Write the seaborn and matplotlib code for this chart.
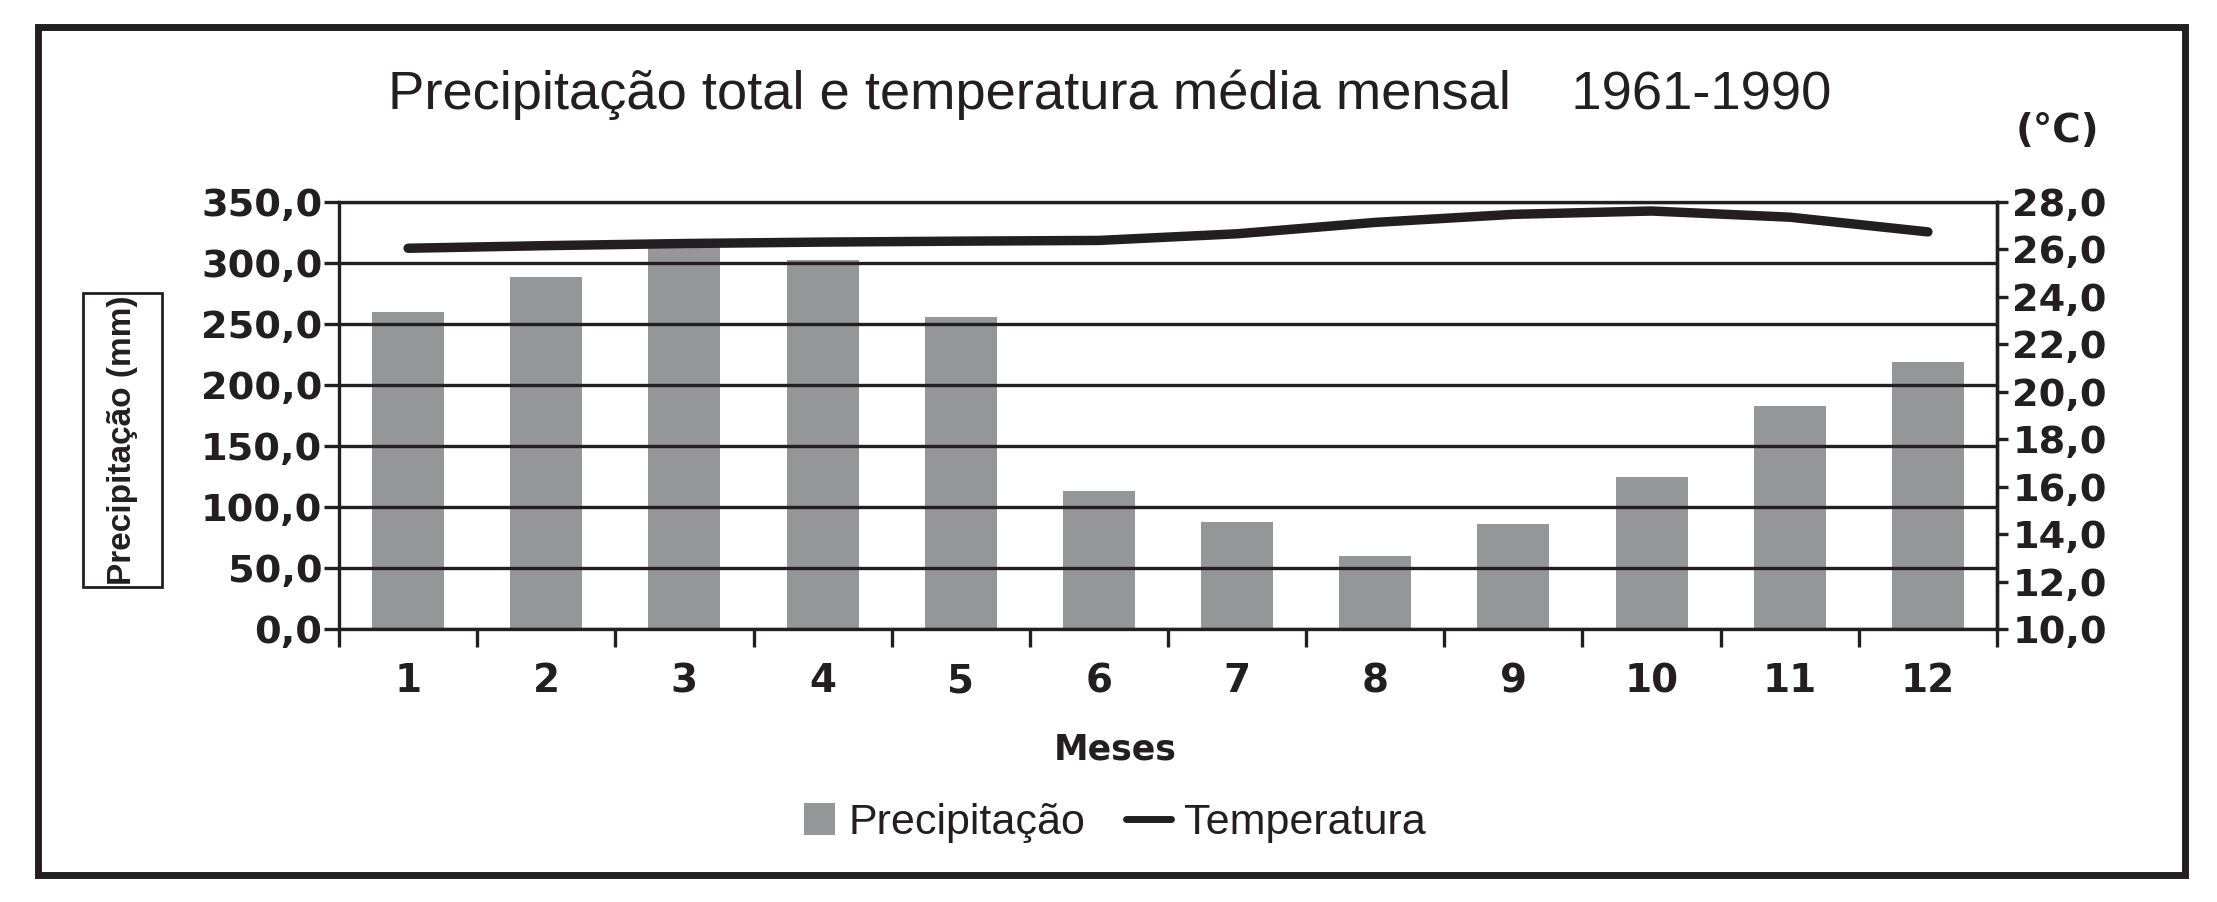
import numpy as np
import matplotlib
matplotlib.use("Agg")
import matplotlib.pyplot as plt
import matplotlib.patches as mpatches
from matplotlib import font_manager
from matplotlib.lines import Line2D
from matplotlib.legend_handler import HandlerPatch
from matplotlib.ticker import FixedLocator, FuncFormatter
import seaborn as sns

# ---------------------------------------------------------------------------
# Data
# ---------------------------------------------------------------------------
months = ["1", "2", "3", "4", "5", "6", "7", "8", "9", "10", "11", "12"]
precip_mm = [259.5, 288.5, 316.0, 302.5, 256.0, 113.5, 88.0, 60.0, 86.0, 124.5, 182.5, 219.0]
temp_c = [26.05, 26.16, 26.25, 26.31, 26.35, 26.38, 26.66, 27.14, 27.48, 27.62, 27.36, 26.74]

prec_ticks = [0, 50, 100, 150, 200, 250, 300, 350]
temp_ticks = [10, 12, 14, 16, 18, 20, 22, 24, 26, 28]

title = "Precipitação total e temperatura média mensal    1961-1990"
ylabel = "Precipitação (mm)"
xlabel = "Meses"
unit_right = "(°C)"
legend_labels = ["Precipitação", "Temperatura"]

BAR_GRAY = "#959698"
INK = "#231f20"
ARIAL = ["Liberation Sans", "DejaVu Sans"]

# the boxed y label is set in a narrow face; use one if it is installed
_installed = {f.name for f in font_manager.fontManager.ttflist}
if "Liberation Sans Narrow" in _installed:
    YLAB_FONT, YLAB_SIZE = ["Liberation Sans Narrow", "DejaVu Sans"], 27
else:
    YLAB_FONT, YLAB_SIZE = ARIAL, 24

W, H = 2217, 902

sns.set_style("white")
plt.rcParams["font.family"] = ["DejaVu Sans"]
plt.rcParams["text.color"] = INK

fig = plt.figure(figsize=(W / 100, H / 100), dpi=100)
ax = fig.add_axes([339 / W, 1 - 629 / H, (1997 - 339) / W, (629 - 202) / H])

# ── bars ────────────────────────────────────────────────────────────────
sns.barplot(x=months, y=precip_mm, ax=ax, color=BAR_GRAY, saturation=1,
            width=0.52, linewidth=0, errorbar=None)
ax.set_xlim(-0.5, len(months) - 0.5)
ax.set_ylim(0, 350)
ax.set_xlabel("")
ax.set_ylabel("")

ax.set_axisbelow(False)
ax.yaxis.grid(True, color=INK, lw=2.4)
ax.xaxis.grid(False)
for s in ax.spines.values():
    s.set_color(INK)
    s.set_linewidth(2.4)

num_fmt = FuncFormatter(lambda v, _: f"{v:.1f}".replace(".", ","))
ax.yaxis.set_major_locator(FixedLocator(prec_ticks))
ax.yaxis.set_major_formatter(num_fmt)
ax.tick_params(axis="y", which="major", length=11, width=2.4, color=INK,
               direction="out", pad=1, labelsize=27.5, labelcolor=INK, left=True)
for lab in ax.get_yticklabels():
    lab.set_fontweight("bold")

ax.xaxis.set_minor_locator(FixedLocator(np.arange(-0.5, len(months), 1.0)))
ax.tick_params(axis="x", which="minor", length=13, width=2.4, color=INK,
               direction="out", bottom=True)
ax.tick_params(axis="x", which="major", length=0, pad=24, labelsize=28,
               labelcolor=INK)
for lab in ax.get_xticklabels():
    lab.set_fontweight("bold")

# ── temperature line ────────────────────────────────────────────────────
ax2 = ax.twinx()
sns.lineplot(x=np.arange(len(months)), y=temp_c, ax=ax2, color=INK, lw=6.8,
             solid_capstyle="round", solid_joinstyle="round", legend=False)
ax2.set_ylim(10, 28)
ax2.set_ylabel("")
ax2.grid(False)
for name, s in ax2.spines.items():
    s.set_visible(name == "right")
    s.set_color(INK)
    s.set_linewidth(2.4)
ax2.yaxis.set_major_locator(FixedLocator(temp_ticks))
ax2.yaxis.set_major_formatter(num_fmt)
ax2.tick_params(axis="y", length=8, width=2.4, color=INK, direction="out",
                pad=3, labelsize=27.5, labelcolor=INK, right=True)
for lab in ax2.get_yticklabels():
    lab.set_fontweight("bold")

# ── texts ───────────────────────────────────────────────────────────────
fig.text(1110 / W, 1 - 95 / H, title, ha="center", va="center",
         fontsize=39.2, family=ARIAL, color=INK)
fig.text(2057 / W, 1 - 131 / H, unit_right, ha="center", va="center",
         fontsize=28, fontweight="bold", color=INK)
fig.text(1115 / W, 1 - 749 / H, xlabel, ha="center", va="center",
         fontsize=25, fontweight="bold", color=INK)

# boxed y label
fig.text(123 / W, 1 - 440 / H, ylabel, ha="center", va="center",
         rotation=90, fontsize=YLAB_SIZE, fontweight="bold", family=YLAB_FONT,
         color=INK)
fig.patches.append(mpatches.Rectangle((83 / W, 1 - 587 / H), (162 - 83) / W,
                                      (587 - 293) / H, transform=fig.transFigure,
                                      fill=False, ec=INK, lw=2))

# ── legend ──────────────────────────────────────────────────────────────
def square_patch(legend, orig_handle, xdescent, ydescent, width, height, fontsize):
    return mpatches.Rectangle((width - height - xdescent, -ydescent), height, height)

handles = [mpatches.Patch(facecolor=BAR_GRAY, edgecolor="none"),
           Line2D([], [], color=INK, lw=5, solid_capstyle="round")]
fig.legend(handles=handles, labels=legend_labels, loc="center",
           bbox_to_anchor=(1108 / W, 1 - 823 / H), ncol=2, frameon=False,
           prop={"family": ARIAL, "size": 31},
           handlelength=1.05, handleheight=0.75, handletextpad=0.3,
           columnspacing=0.95, labelcolor=INK,
           handler_map={mpatches.Patch: HandlerPatch(patch_func=square_patch)})

# ── outer frame ─────────────────────────────────────────────────────────
fig.patches.append(mpatches.Rectangle((38 / W, 1 - 875 / H), (2185 - 38) / W,
                                      (875 - 27) / H, transform=fig.transFigure,
                                      fill=False, ec=INK, lw=5))

fig.savefig("out.png", dpi=100, facecolor="white")
